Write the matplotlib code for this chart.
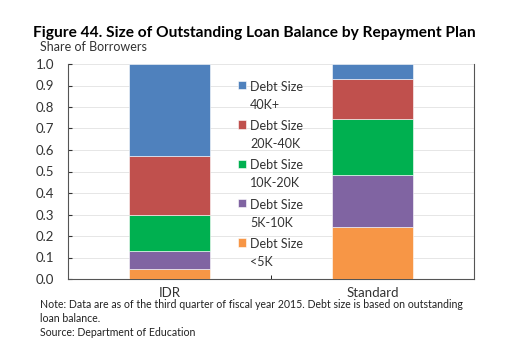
import numpy as np
import matplotlib.pyplot as plt

plt.rcParams['font.family'] = ['Lato', 'DejaVu Sans']

plans = ["IDR", "Standard"]
labels = ["Debt Size\n<5K", "Debt Size\n5K-10K", "Debt Size\n10K-20K",
          "Debt Size\n20K-40K", "Debt Size\n40K+"]
lt5k = [0.047, 0.243]
k5_10 = [0.082, 0.239]
k10_20 = [0.167, 0.262]
k20_40 = [0.278, 0.185]
k40plus = [0.426, 0.071]
series = [lt5k, k5_10, k10_20, k20_40, k40plus]
colors = ["#F79646", "#8064A2", "#00B050", "#C0504D", "#4F81BD"]

fig = plt.figure(figsize=(5.05, 3.44), dpi=100)
ax = fig.add_axes([68/505, 1 - 279/344, 406/505, 215/344])

x = np.arange(len(plans))
bottom = np.zeros(len(plans))
handles = []
for vals, lab, c in zip(series, labels, colors):
    b = ax.bar(x, vals, 0.4, bottom=bottom, color=c, label=lab,
               edgecolor="white", linewidth=0.4, zorder=3)
    handles.append(b)
    bottom += np.array(vals)

ax.set_xlim(-0.5, 1.5)
ax.set_ylim(0, 1.0)
ax.set_yticks(np.arange(0, 1.01, 0.1))
ax.set_yticklabels([f"{v:.1f}" for v in np.arange(0, 1.01, 0.1)])
ax.set_xticks(x)
ax.set_xticklabels(plans)
ax.set_xticks([0.5], minor=True)
ax.tick_params(axis="x", which="major", length=0, labelsize=9.5, pad=6, colors="#333333")
ax.tick_params(axis="x", which="minor", length=3, direction="in")
ax.tick_params(axis="y", length=3, direction="in", labelsize=9.5, pad=10, colors="#333333")
ax.grid(axis="y", color="#e6e6e6", linewidth=0.7, zorder=0)
for s in ax.spines.values():
    s.set_color("#555555")
    s.set_linewidth(0.8)
ax.spines["top"].set_visible(False)

leg = ax.legend(handles[::-1], labels[::-1], loc="upper left",
                bbox_to_anchor=(0.39, 0.975), frameon=False, fontsize=9,
                handlelength=0.65, handleheight=0.65, handletextpad=0.35,
                labelspacing=0.75)
for t in leg.get_texts():
    t.set_color("#333333")
    t.set_linespacing(1.6)
# put each square next to the first line of its label
for h in leg.legend_handles:
    h.set_y(h.get_y() + 8)

fig.text(33/505, 1 - 33/344, "Figure 44. Size of Outstanding Loan Balance by Repayment Plan",
         fontsize=11.2, fontweight="bold", va="center", ha="left")
fig.text(40/505, 1 - 47/344, "Share of Borrowers", fontsize=9, va="center",
         ha="left", color="#333333")
fig.text(40/505, 1 - 305/344,
         "Note: Data are as of the third quarter of fiscal year 2015. Debt size is based on outstanding",
         fontsize=7.6, va="center", ha="left", color="#222222")
fig.text(40/505, 1 - 319/344, "loan balance.",
         fontsize=7.6, va="center", ha="left", color="#222222")
fig.text(40/505, 1 - 333/344, "Source: Department of Education", fontsize=7.6,
         va="center", ha="left", color="#222222")

fig.savefig("out.png", dpi=100)
